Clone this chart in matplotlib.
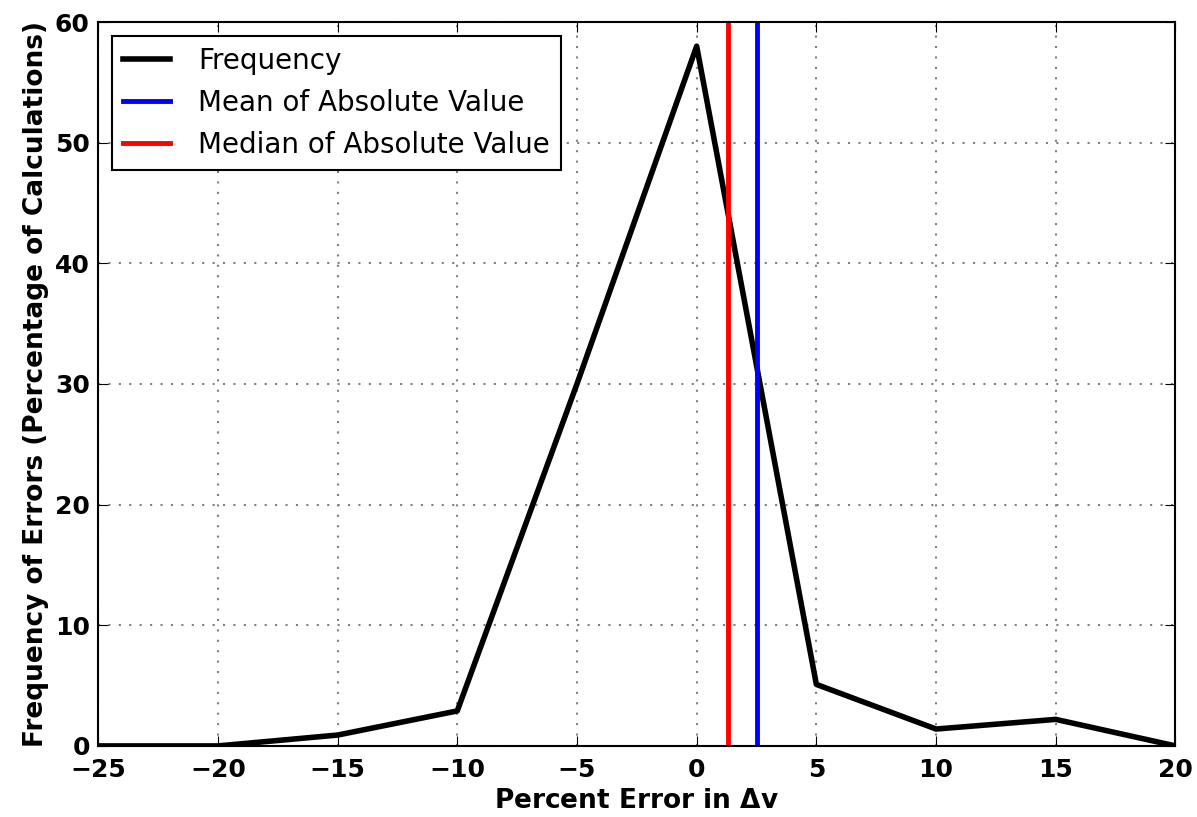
import matplotlib as mpl
mpl.use('Agg')
import matplotlib.pyplot as plt

mpl.rcParams['font.weight'] = 'bold'
mpl.rcParams['axes.labelweight'] = 'bold'
mpl.rcParams['xtick.labelsize'] = 18
mpl.rcParams['ytick.labelsize'] = 18
mpl.rcParams['axes.labelsize'] = 19
mpl.rcParams['xtick.direction'] = 'in'
mpl.rcParams['ytick.direction'] = 'in'
mpl.rcParams['xtick.top'] = True
mpl.rcParams['ytick.right'] = True
mpl.rcParams['xtick.major.size'] = 7
mpl.rcParams['ytick.major.size'] = 7
mpl.rcParams['xtick.major.pad'] = 9
mpl.rcParams['ytick.major.pad'] = 6

# data
error_pct = [-25, -20, -15, -10, -5, 0, 5, 10, 15, 20]
frequency = [0, 0, 0.9, 2.9, 30, 58, 5.1, 1.4, 2.2, 0]
mean_abs = 2.5
median_abs = 1.3

fig = plt.figure(figsize=[11.97, 8.17], dpi=100)
ax = fig.add_axes([0.082, 0.087, 0.9, 0.886])

ax.plot(error_pct, frequency, color='k', linewidth=4, label='Frequency')
ax.axvline(mean_abs, color='b', linewidth=3.5, label='Mean of Absolute Value')
ax.axvline(median_abs, color='r', linewidth=3.5, label='Median of Absolute Value')

ax.set_xlim([-25, 20])
ax.set_ylim([0, 60])
ax.set_xticks(range(-25, 21, 5))
ax.set_yticks(range(0, 61, 10))
ax.grid(True, linestyle=(0, (1, 4)), color='grey', linewidth=1.5)
for sp in ax.spines.values():
    sp.set_linewidth(1.5)

ax.set_xlabel('Percent Error in $\\mathbf{\\Delta}$v', labelpad=4)
ax.set_ylabel('Frequency of Errors (Percentage of Calculations)', labelpad=4)

leg = ax.legend(loc='upper left', prop={'weight': 'normal', 'size': 20},
                fancybox=False, framealpha=1, edgecolor='k', handlelength=1.7,
                handletextpad=1.0, borderaxespad=0.5)
leg.get_frame().set_linewidth(1.5)

fig.savefig('out.png', dpi=100, facecolor='white')
